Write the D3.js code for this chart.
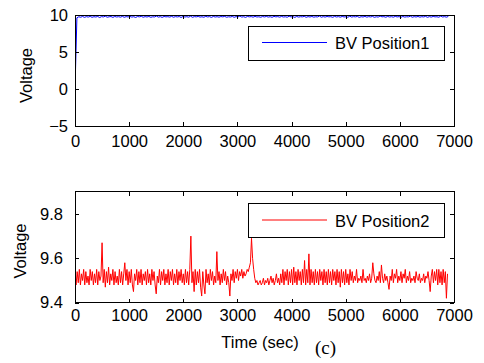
<!DOCTYPE html>
<meta charset="utf-8">
<style>
body { margin:0; background:#fff; }
text { font-family: "Liberation Sans", Arial, sans-serif; fill:#000; }
.axis path { display:none; }
.axis line { stroke:#000; shape-rendering:crispEdges; }
.axis text { font-size:16.5px; }
.frame { fill:none; stroke:#000; stroke-width:1px; shape-rendering:crispEdges; }
.legend rect { fill:#fff; stroke:#000; stroke-width:1px; shape-rendering:crispEdges; }
</style>
<body>
<script src="https://d3js.org/d3.v7.min.js"></script>
<script>

// sampling interval of each recording (sec)
var bv1Step = 35;
var bv2Step = 20;

var xTicks = [0,1000,2000,3000,4000,5000,6000,7000];
var topTicks = [-5,0,5,10];
var botTicks = [9.4,9.6,9.8];

// BV Position1 (top panel)
var bv1 = [
 0.0,9.62,9.76,9.70,9.80,9.68,9.78,9.72,9.81,9.69,
 9.77,9.73,9.80,9.66,9.78,9.74,9.84,9.70,9.76,9.79,
 9.68,9.80,9.73,9.77,9.71,9.81,9.69,9.78,9.74,9.80,
 9.72,9.77,9.67,9.79,9.75,9.81,9.70,9.78,9.73,9.80,
 9.69,9.76,9.74,9.86,9.71,9.78,9.68,9.80,9.75,9.77,
 9.72,9.81,9.70,9.78,9.74,9.79,9.67,9.80,9.73,9.77,
 9.71,9.84,9.69,9.78,9.75,9.80,9.72,9.76,9.70,9.81,
 9.74,9.78,9.68,9.80,9.73,9.77,9.71,9.79,9.75,9.81,
 9.70,9.76,9.73,9.80,9.69,9.78,9.74,9.86,9.72,9.77,
 9.68,9.80,9.75,9.78,9.71,9.81,9.73,9.76,9.70,9.79,
 9.74,9.80,9.72,9.77,9.69,9.81,9.75,9.78,9.71,9.80,
 9.73,9.76,9.70,9.84,9.74,9.78,9.68,9.80,9.72,9.77,
 9.75,9.81,9.69,9.78,9.73,9.80,9.71,9.76,9.74,9.86,
 9.70,9.78,9.72,9.80,9.75,9.77,9.69,9.81,9.73,9.78,
 9.71,9.80,9.74,9.76,9.70,9.84,9.72,9.78,9.75,9.80,
 9.68,9.77,9.73,9.81,9.71,9.78,9.74,9.80,9.69,9.76,
 9.72,9.86,9.75,9.78,9.70,9.80,9.73,9.77,9.71,9.81,
 9.74,9.78,9.69,9.80,9.72,9.76,9.75,9.84,9.70,9.78,
 9.73,9.80,9.71,9.77,9.74,9.81,9.69,9.78,9.72,9.80,
 9.75,9.76,9.70,9.86,9.73,9.78,9.71,9.80
];

// BV Position2 (bottom panel)
var bv2 = [
 9.52,9.48,9.54,9.49,9.55,9.48,9.53,9.50,9.55,9.48,
 9.54,9.49,9.52,9.48,9.55,9.50,9.54,9.48,9.53,9.49,
 9.55,9.48,9.54,9.50,9.52,9.67,9.49,9.55,9.47,9.54,
 9.49,9.56,9.48,9.53,9.50,9.55,9.48,9.54,9.49,9.52,
 9.48,9.55,9.49,9.54,9.48,9.53,9.58,9.50,9.55,9.48,
 9.54,9.49,9.55,9.48,9.45,9.53,9.50,9.55,9.48,9.54,
 9.49,9.55,9.48,9.53,9.50,9.54,9.48,9.55,9.49,9.53,
 9.48,9.55,9.50,9.54,9.48,9.44,9.52,9.49,9.55,9.48,
 9.54,9.50,9.55,9.48,9.53,9.49,9.55,9.48,9.54,9.50,
 9.55,9.48,9.53,9.49,9.55,9.48,9.54,9.50,9.55,9.49,
 9.53,9.48,9.55,9.49,9.54,9.48,9.55,9.70,9.49,9.54,
 9.45,9.55,9.48,9.54,9.49,9.55,9.47,9.43,9.54,9.48,
 9.44,9.55,9.49,9.53,9.48,9.55,9.50,9.54,9.48,9.52,
 9.49,9.63,9.50,9.54,9.48,9.53,9.49,9.55,9.50,9.54,
 9.48,9.52,9.49,9.43,9.53,9.50,9.55,9.49,9.54,9.51,
 9.55,9.50,9.54,9.52,9.55,9.51,9.54,9.52,9.53,9.55,
 9.54,9.56,9.58,9.69,9.60,9.55,9.51,9.49,9.50,9.48,
 9.49,9.50,9.48,9.49,9.51,9.48,9.50,9.49,9.51,9.48,
 9.50,9.52,9.49,9.51,9.48,9.50,9.53,9.49,9.51,9.48,
 9.53,9.49,9.55,9.48,9.54,9.50,9.55,9.48,9.54,9.49,
 9.55,9.48,9.56,9.49,9.54,9.48,9.55,9.50,9.54,9.48,
 9.55,9.49,9.59,9.48,9.55,9.49,9.62,9.48,9.55,9.49,
 9.54,9.48,9.55,9.49,9.54,9.48,9.55,9.50,9.54,9.48,
 9.55,9.49,9.54,9.48,9.55,9.49,9.54,9.48,9.55,9.50,
 9.54,9.48,9.55,9.49,9.54,9.47,9.55,9.49,9.54,9.48,
 9.55,9.49,9.53,9.48,9.55,9.50,9.54,9.49,9.52,9.50,
 9.55,9.49,9.51,9.50,9.52,9.49,9.55,9.50,9.51,9.49,
 9.52,9.50,9.53,9.49,9.51,9.58,9.53,9.50,9.49,9.52,
 9.50,9.54,9.49,9.57,9.51,9.49,9.53,9.50,9.52,9.49,
 9.46,9.52,9.50,9.55,9.49,9.53,9.51,9.55,9.49,9.52,
 9.50,9.54,9.49,9.53,9.51,9.55,9.49,9.52,9.50,9.54,
 9.49,9.51,9.50,9.52,9.49,9.54,9.51,9.50,9.53,9.49,
 9.51,9.50,9.53,9.49,9.52,9.51,9.54,9.50,9.45,9.52,
 9.55,9.49,9.54,9.50,9.55,9.48,9.55,9.49,9.54,9.48,
 9.55,9.49,9.54,9.42,9.53
];

var W = 484, H = 363;
var svg = d3.select("body").append("svg").attr("width", W).attr("height", H);
svg.append("rect").attr("width", W).attr("height", H).attr("fill", "#fff");

var x = d3.scaleLinear().domain([0,7000]).range([75,454]);

var panels = [
  {values:bv1, step:bv1Step, color:"#0000ff", name:"BV Position1", y:d3.scaleLinear().domain([-5,10]).range([126,15]),
   ticks:topTicks, fmt:d3.format("d"), xpad:9.5, ypad:7, ylabX:26, ylabY:75.5, leg:[248,26], id:"c1"},
  {values:bv2, step:bv2Step, color:"#ff0000", name:"BV Position2", y:d3.scaleLinear().domain([9.4,9.9]).range([302.7,191.7]),
   ticks:botTicks, fmt:d3.format(".1f"), xpad:6.5, ypad:12, ylabX:20, ylabY:251, leg:[248,203.5], id:"c2"}
];

panels.forEach(function(p){
  var y = p.y;
  var y0 = y.range()[0], y1 = y.range()[1];

  svg.append("clipPath").attr("id", p.id).append("rect")
    .attr("x", x.range()[0]).attr("y", y1).attr("width", x.range()[1]-x.range()[0]).attr("height", y0-y1);

  svg.append("path")
    .datum(p.values)
    .attr("clip-path", "url(#"+p.id+")")
    .attr("fill", "none")
    .attr("stroke", p.color)
    .attr("stroke-width", 1)
    .attr("d", d3.line().x(function(d,i){ return x(i*p.step); }).y(function(d){ return y(d); }));

  svg.append("g").attr("class","axis").attr("transform","translate(0,"+y0+")")
    .call(d3.axisBottom(x).tickValues(xTicks).tickSizeInner(-4).tickSizeOuter(0).tickPadding(p.xpad).tickFormat(d3.format("d")));
  svg.append("g").attr("class","axis").attr("transform","translate(0,"+y1+")")
    .call(d3.axisTop(x).tickValues(xTicks).tickSizeInner(-4).tickSizeOuter(0).tickFormat(""));
  svg.append("g").attr("class","axis").attr("transform","translate("+x.range()[0]+",0)")
    .call(d3.axisLeft(y).tickValues(p.ticks).tickSizeInner(-4).tickSizeOuter(0).tickPadding(p.ypad).tickFormat(p.fmt));
  svg.append("g").attr("class","axis").attr("transform","translate("+x.range()[1]+",0)")
    .call(d3.axisRight(y).tickValues(p.ticks).tickSizeInner(-4).tickSizeOuter(0).tickFormat(""));

  svg.append("rect").attr("class","frame")
    .attr("x", x.range()[0]).attr("y", y1).attr("width", x.range()[1]-x.range()[0]).attr("height", y0-y1);

  svg.append("text")
    .attr("transform","translate("+p.ylabX+","+p.ylabY+") rotate(-90)")
    .attr("text-anchor","middle").attr("dy","0.35em")
    .style("font-size","16.5px").text("Voltage");

  var lg = svg.append("g").attr("class","legend").attr("transform","translate("+p.leg[0]+","+p.leg[1]+")");
  lg.append("rect").attr("width",196).attr("height",34);
  lg.append("line").attr("x1",14).attr("x2",79).attr("y1",16.5).attr("y2",16.5)
    .attr("stroke",p.color).attr("stroke-width",1);
  lg.append("text").attr("x",87).attr("y",23).style("font-size","16.5px").text(p.name);
});

svg.append("text").attr("x",260).attr("y",348).attr("text-anchor","middle")
  .style("font-size","16.5px").text("Time (sec)");
svg.append("text").attr("x",315).attr("y",354)
  .style("font-family","'Liberation Serif', 'Times New Roman', serif").style("font-size","19px").text("(c)");

</script>
</body>
